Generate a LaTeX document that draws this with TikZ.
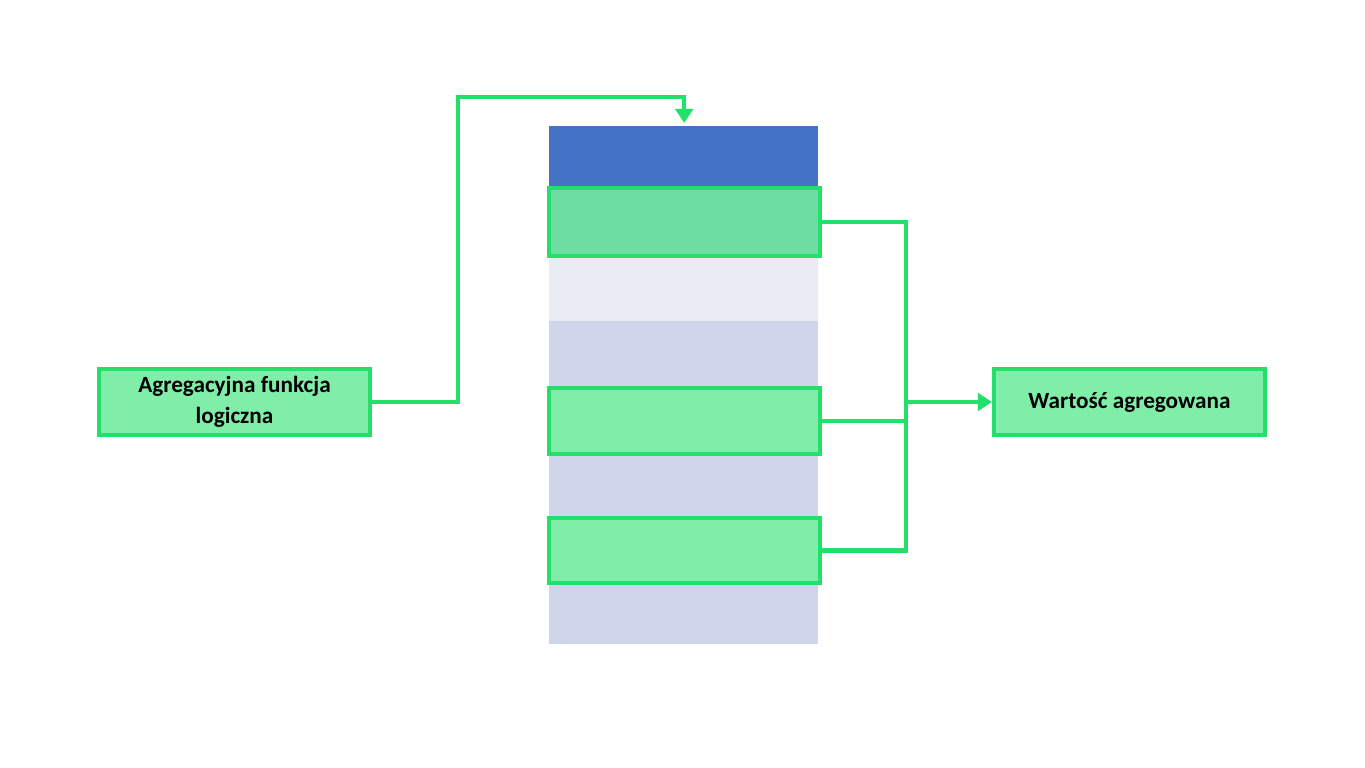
\documentclass[tikz,border=0pt]{standalone}
\usepackage{fontspec}
\setmainfont{Carlito}
\usetikzlibrary{positioning,calc,arrows.meta}
\definecolor{lime}{HTML}{22E06A}
\definecolor{limefill}{HTML}{80EDA8}
\definecolor{headblue}{HTML}{4472C4}
\definecolor{rowa}{HTML}{E9EBF5}
\definecolor{rowb}{HTML}{CFD5EA}
\tikzstyle{cell}= [draw=none, minimum width=2.69cm, inner sep=0pt, anchor=north west]
\tikzstyle{hit}= [draw=lime, line width=1.2pt, fill=limefill, minimum width=2.71cm, inner sep=0pt, anchor=north west]
\tikzstyle{lbl}= [draw=lime, line width=1.2pt, fill=limefill, minimum width=2.71cm, minimum height=0.66cm, inner sep=1pt, align=center, font=\bfseries\fontsize{6.6}{9}\selectfont]
\tikzstyle{wire}= [draw=lime, line width=1.2pt]
\begin{document}
\begin{tikzpicture}
\useasboundingbox (0,0) rectangle (13.65,7.68);
\node[cell, fill=headblue, minimum height=0.6cm] (head) at (5.48,6.43) {};
\node[cell, fill=rowa, minimum height=0.65cm] (r2) at (5.48,5.13) {};
\node[cell, fill=rowb, minimum height=0.65cm] (r3) at (5.48,4.48) {};
\node[cell, fill=rowb, minimum height=0.62cm] (r5) at (5.48,3.15) {};
\node[cell, fill=rowb, minimum height=0.61cm] (r7) at (5.48,1.86) {};
\node[hit, fill=limefill!85!teal, minimum height=0.68cm] (r1) at (5.47,5.82) {};
\node[hit, minimum height=0.66cm] (r4) at (5.47,3.82) {};
\node[hit, minimum height=0.65cm] (r6) at (5.47,2.52) {};
\node[lbl] (agg) at (2.345,3.66) {Agregacyjna funkcja\\logiczna};
\node[lbl] (val) at (11.295,3.66) {Wartość agregowana};
\coordinate (join) at (9.06,3.66);
\draw[wire, -{Triangle[length=4pt,width=5pt]}] (agg.east) -| (4.58,6.71) -| ($(head.north)+(0.01,0.02)$);
\draw[wire] (r1.east) -| (join);
\draw[wire] (r4.east) -| (join);
\draw[wire] (r6.east) -| (join);
\draw[wire, -{Triangle[length=4pt,width=5pt]}] (join) -- (val.west);
\end{tikzpicture}
\end{document}
